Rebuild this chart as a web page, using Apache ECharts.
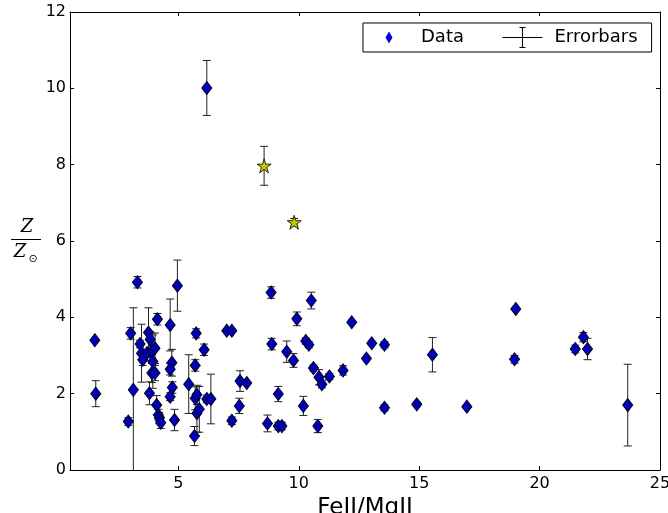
<!DOCTYPE html>
<html>
<head>
<meta charset="utf-8">
<script src="https://cdn.jsdelivr.net/npm/echarts@6/dist/echarts.min.js"></script>
<style>
  html, body { margin: 0; padding: 0; background: #fff; }
  #chart { width: 668px; height: 513px; }
</style>
</head>
<body>
<div id="chart"></div>
<script>
// FeII/MgII ratio, metallicity Z/Zsun and its 1-sigma uncertainty
const feMg = [
  1.53, 1.57, 2.92, 3.02, 3.13, 3.30, 3.41, 3.47, 3.52, 3.69,
  3.76, 3.83, 3.90, 4.03, 3.94, 3.90, 4.03, 4.13, 3.80, 4.10,
  4.17, 4.21, 4.27, 4.66, 4.73, 4.66, 4.75, 4.66, 4.84, 4.96,
  5.43, 5.74, 5.70, 5.70, 5.77, 5.77, 5.67, 5.87, 6.07, 6.18,
  6.35, 6.18, 7.01, 7.22, 7.22, 7.53, 7.56, 7.84, 8.85, 8.88,
  8.70, 9.15, 9.15, 9.30, 9.50, 9.78, 9.92, 10.19, 10.29, 10.42,
  10.52, 10.61, 10.79, 10.84, 10.96, 11.27, 11.84, 12.20, 12.81, 13.03,
  13.56, 13.56, 14.90, 15.55, 16.98, 19.01, 18.96, 21.48, 21.82, 21.99,
  23.66
];
const metallicity = [
  3.40, 2.00, 1.27, 3.58, 2.10, 4.92, 3.30, 3.06, 2.89, 3.06,
  3.60, 3.42, 3.10, 3.19, 2.84, 2.54, 2.54, 3.95, 2.01, 1.70,
  1.44, 1.36, 1.24, 3.80, 2.81, 2.64, 2.16, 1.92, 1.31, 4.83,
  2.25, 3.58, 2.74, 1.88, 1.97, 1.49, 0.89, 1.59, 3.15, 1.86,
  1.86, 10.01, 3.65, 3.65, 1.29, 1.68, 2.33, 2.28, 4.65, 3.30,
  1.22, 1.99, 1.15, 1.15, 3.10, 2.87, 3.96, 1.68, 3.38, 3.28,
  4.44, 2.67, 1.15, 2.43, 2.25, 2.45, 2.61, 3.87, 2.92, 3.32,
  3.28, 1.63, 1.72, 3.02, 1.66, 4.22, 2.90, 3.17, 3.48, 3.17,
  1.70
];
const metallicityErr = [
  0.00, 0.34, 0.10, 0.15, 2.15, 0.15, 0.10, 0.76, 0.15, 0.10,
  0.65, 0.20, 0.15, 0.40, 0.70, 0.25, 0.20, 0.15, 0.30, 0.25,
  0.15, 0.15, 0.15, 0.68, 0.35, 0.15, 0.15, 0.10, 0.28, 0.67,
  0.77, 0.12, 0.15, 0.30, 0.25, 0.50, 0.25, 0.60, 0.15, 0.10,
  0.65, 0.72, 0.00, 0.00, 0.10, 0.20, 0.27, 0.00, 0.15, 0.15,
  0.22, 0.20, 0.10, 0.10, 0.28, 0.18, 0.18, 0.25, 0.08, 0.08,
  0.22, 0.08, 0.17, 0.20, 0.10, 0.08, 0.12, 0.00, 0.00, 0.00,
  0.08, 0.08, 0.06, 0.45, 0.05, 0.00, 0.10, 0.10, 0.12, 0.28,
  1.07
];

// two highlighted objects (star markers)
const starFeMg = [8.56, 9.81];
const starZ = [7.97, 6.49];
const starErr = [0.51, 0.10];

const xTicks = [5, 10, 15, 20, 25];
const yTicks = [0, 2, 4, 6, 8, 10, 12];

const dataPoints = feMg.map((x, i) => [x, metallicity[i]]);
const starPoints = starFeMg.map((x, i) => [x, starZ[i]]);
const errRows = feMg.map((x, i) => [x, metallicity[i], metallicityErr[i]])
  .concat(starFeMg.map((x, i) => [x, starZ[i], starErr[i]]));

const FONT = 'DejaVu Sans';
const STAR = 'path://M50,0L61.23,34.55L97.55,34.55L68.17,55.9L79.39,90.45L50,69.1L20.61,90.45L31.83,55.9L2.45,34.55L38.77,34.55Z';

const chart = echarts.init(document.getElementById('chart'), null, { renderer: 'canvas' });

const tickStyle = { show: true, inside: true, length: 4, lineStyle: { color: '#000', width: 1 } };

chart.setOption({
  animation: false,
  backgroundColor: '#fff',
  grid: { left: 70, right: 8, top: 12, bottom: 43, show: false, containLabel: false, outerBoundsMode: 'none' },
  legend: {
    left: 363, top: 23,
    padding: [4, 14, 4, 6],
    itemGap: 38,
    itemWidth: 40, itemHeight: 20,
    borderColor: '#000', borderWidth: 1, borderRadius: 0,
    textStyle: { fontFamily: FONT, fontSize: 18, color: '#000', padding: [0, 0, 0, 7] },
    data: [
      { name: 'Data', icon: 'path://M0,0M40,20M20,4L23.5,10L20,16L16.5,10Z',
        itemStyle: { color: '#0000ee', borderWidth: 0 } },
      { name: 'Errorbars', icon: 'path://M0,10L40,10M20,0L20,20M17,0L23,0M17,20L23,20',
        itemStyle: { color: 'transparent', borderColor: '#000', borderWidth: 1 } }
    ]
  },
  xAxis: [
    {
      type: 'value', min: 0.5, max: 25, position: 'bottom',
      name: 'FeII/MgII', nameLocation: 'middle', nameGap: 20,
      nameTextStyle: { fontFamily: FONT, fontSize: 23, color: '#000' },
      axisLine: { show: true, onZero: false, lineStyle: { color: '#000', width: 1 } },
      axisTick: Object.assign({ customValues: xTicks }, tickStyle),
      axisLabel: { customValues: xTicks, margin: 6, fontFamily: FONT, fontSize: 16, color: '#000' },
      splitLine: { show: false }
    },
    {
      type: 'value', min: 0.5, max: 25, position: 'top',
      axisLine: { show: true, onZero: false, lineStyle: { color: '#000', width: 1 } },
      axisTick: Object.assign({ customValues: xTicks }, tickStyle),
      axisLabel: { show: false },
      splitLine: { show: false }
    }
  ],
  yAxis: [
    {
      type: 'value', min: 0, max: 12, interval: 2, position: 'left',
      axisLine: { show: true, onZero: false, lineStyle: { color: '#000', width: 1 } },
      axisTick: Object.assign({ customValues: yTicks }, tickStyle),
      axisLabel: { customValues: yTicks, margin: 4, fontFamily: FONT, fontSize: 16, color: '#000' },
      splitLine: { show: false }
    },
    {
      type: 'value', min: 0, max: 12, interval: 2, position: 'right',
      axisLine: { show: true, onZero: false, lineStyle: { color: '#000', width: 1 } },
      axisTick: Object.assign({ customValues: yTicks }, tickStyle),
      axisLabel: { show: false },
      splitLine: { show: false }
    }
  ],
  series: [
    {
      name: 'Errorbars',
      type: 'custom',
      clip: true,
      z: 1,
      data: errRows,
      renderItem: function (params, api) {
        const x = api.value(0), y = api.value(1), e = api.value(2);
        if (!(e > 0)) return null;
        const hi = api.coord([x, y + e]);
        const lo = api.coord([x, y - e]);
        const hw = 4;
        const st = { stroke: '#222', lineWidth: 1 };
        return {
          type: 'group',
          children: [
            { type: 'line', shape: { x1: hi[0], y1: hi[1], x2: lo[0], y2: lo[1] }, style: st },
            { type: 'line', shape: { x1: hi[0] - hw, y1: hi[1], x2: hi[0] + hw, y2: hi[1] }, style: st },
            { type: 'line', shape: { x1: lo[0] - hw, y1: lo[1], x2: lo[0] + hw, y2: lo[1] }, style: st }
          ]
        };
      }
    },
    {
      name: 'Data',
      type: 'scatter',
      z: 2,
      symbol: 'diamond',
      symbolSize: [10, 13],
      itemStyle: { color: '#0000b8', borderColor: '#000022', borderWidth: 1, opacity: 1 },
      data: dataPoints
    },
    {
      name: 'Highlighted',
      type: 'scatter',
      z: 3,
      symbol: STAR,
      symbolSize: 14,
      itemStyle: { color: '#c4c400', borderColor: '#000', borderWidth: 0.8, opacity: 1 },
      data: starPoints
    }
  ],
  graphic: [
    { type: 'text', x: 27, y: 227,
      style: { text: 'Z', font: 'italic 18px "DejaVu Serif"', fill: '#000', align: 'center', verticalAlign: 'middle' } },
    { type: 'line', shape: { x1: 11, y1: 239.5, x2: 41, y2: 239.5 }, style: { stroke: '#000', lineWidth: 1 } },
    { type: 'text', x: 20, y: 252,
      style: { text: 'Z', font: 'italic 18px "DejaVu Serif"', fill: '#000', align: 'center', verticalAlign: 'middle' } },
    { type: 'text', x: 33, y: 259,
      style: { text: '\u2299', font: '11px "DejaVu Sans"', fill: '#000', align: 'center', verticalAlign: 'middle' } }
  ]
});
</script>
</body>
</html>
